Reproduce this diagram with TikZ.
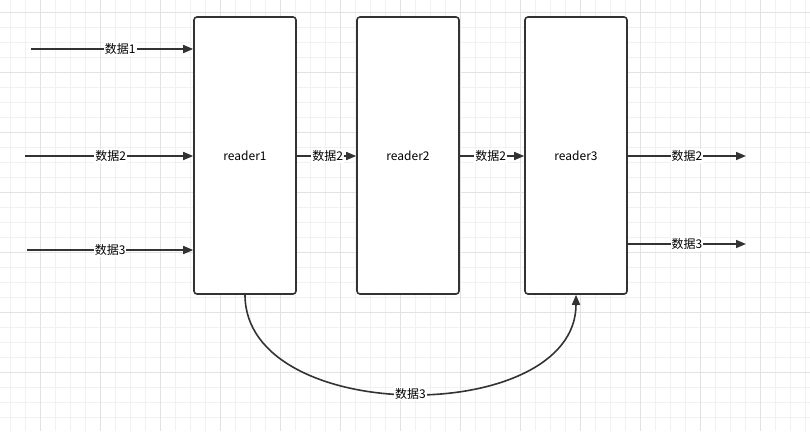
\documentclass[tikz,border=0pt]{standalone}
\usepackage{fontspec}
\setmainfont{Noto Sans CJK SC}
\usetikzlibrary{arrows.meta, positioning}
\definecolor{inkgray}{HTML}{333333}
\definecolor{minorline}{HTML}{F1F1F1}
\definecolor{majorline}{HTML}{E2E2E2}

\begin{document}
\begin{tikzpicture}[x=1pt, y=-1pt,
    reader/.style={draw=inkgray, fill=white, line width=1.6pt, rounded corners=3pt,
        minimum width=102pt, minimum height=277pt, inner sep=0pt,
        font=\fontsize{12}{14}\selectfont},
    flow/.style={draw=inkgray, line width=1.6pt, -{Triangle[length=10pt, width=8pt]}},
    lbl/.style={fill=white, inner sep=1pt, font=\fontsize{12}{14}\selectfont}]
    \useasboundingbox[fill=white] (0,0) rectangle (810,431);

    % background grid
    \foreach \x in {10,25,...,805} \draw[minorline, line width=0.8pt] (\x,0) -- (\x,431);
    \foreach \y in {12,27,...,430} \draw[minorline, line width=0.8pt] (0,\y) -- (810,\y);
    \foreach \x in {40,100,...,800} \draw[majorline, line width=0.8pt] (\x,0) -- (\x,431);
    \foreach \y in {12,72,...,430} \draw[majorline, line width=0.8pt] (0,\y) -- (810,\y);

    % readers
    \node[reader] (r1) at (245,155.5) {reader1};
    \node[reader, right=59.4pt of r1] (r2) {reader2};
    \node[reader, right=64.4pt of r2] (r3) {reader3};

    % free ends
    \coordinate (in1) at (31,49);
    \coordinate (in2) at (25,156);
    \coordinate (in3) at (27,250);
    \coordinate (out2) at (746,156);
    \coordinate (out3) at (746,244);

    % inputs
    \draw[flow] (in1) -- node[lbl, pos=.55] {数据1} (in1 -| r1.west);
    \draw[flow] (in2) -- node[lbl, pos=.51] {数据2} (in2 -| r1.west);
    \draw[flow] (in3) -- node[lbl, pos=.5] {数据3} (in3 -| r1.west);

    % between readers
    \draw[flow] (r1.east |- in2) -- node[lbl, pos=.52] {数据2} (r2.west |- in2);
    \draw[flow] (r2.east |- in2) -- node[lbl, pos=.48] {数据2} (r3.west |- in2);

    % outputs
    \draw[flow] (r3.east |- out2) -- node[lbl, pos=.5] {数据2} (out2);
    \draw[flow] (r3.east |- out3) -- node[lbl, pos=.5] {数据3} (out3);

    % bypass
    \draw[flow] (r1.south) .. controls +(0,132) and +(0,132) .. node[lbl] {数据3} (r3.south);
\end{tikzpicture}
\end{document}
